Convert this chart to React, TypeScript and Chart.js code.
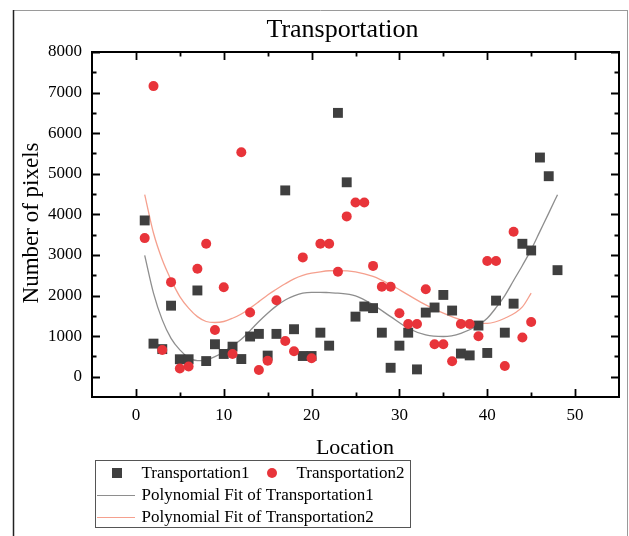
import React, { useEffect, useRef } from 'react';
import { Chart, registerables } from 'chart.js';

Chart.register(...registerables);

// ---------- data ----------
const locations1 = [1, 2, 3, 4, 5, 6, 7, 8, 9, 10, 11, 12, 13, 14, 15, 16, 17, 18, 19, 20, 21, 22, 23, 24, 25, 26, 27, 28, 29, 30, 31, 32, 33, 34, 35, 36, 37, 38, 39, 40, 41, 42, 43, 44, 45, 46, 47, 48];
const transportation1 = [3850, 815, 680, 1750, 430, 430, 2125, 385, 800, 560, 740, 435, 990, 1055, 520, 1055, 4590, 1170, 510, 510, 1085, 765, 6500, 4790, 1480, 1730, 1690, 1085, 220, 765, 1085, 180, 1580, 1705, 2015, 1630, 570, 525, 1260, 585, 1875, 1085, 1800, 3275, 3110, 5400, 4940, 2625];

const locations2 = [1, 2, 3, 4, 5, 6, 7, 8, 9, 10, 11, 12, 13, 14, 15, 16, 17, 18, 19, 20, 21, 22, 23, 24, 25, 26, 27, 28, 29, 30, 31, 32, 33, 34, 35, 36, 37, 38, 39, 40, 41, 42, 43, 44, 45];
const transportation2 = [3415, 7160, 660, 2330, 200, 250, 2660, 3275, 1150, 2205, 560, 5530, 1580, 165, 395, 1885, 880, 625, 2940, 455, 3275, 3275, 2585, 3950, 4290, 4290, 2730, 2215, 2215, 1565, 1300, 1300, 2155, 800, 800, 380, 1300, 1300, 995, 2850, 2850, 265, 3570, 965, 1350];

// Polynomial fit curves
const fit1X = [1, 2, 3, 4, 5, 6, 7, 8, 9, 10, 11, 12, 13, 14, 15, 16, 17, 18, 19, 20, 21, 22, 23, 25, 27, 29, 31, 33, 35, 37, 39, 40, 41, 42, 43, 44, 45, 46, 47, 48];
const fit1Y = [2990, 2060, 1400, 945, 660, 470, 395, 410, 495, 610, 760, 920, 1135, 1360, 1565, 1745, 1890, 1990, 2060, 2080, 2080, 2070, 2060, 1990, 1770, 1480, 1195, 1030, 990, 1070, 1275, 1440, 1700, 2000, 2370, 2740, 3130, 3580, 4030, 4485];

const fit2X = [1, 2, 3, 4, 5, 6, 7, 8, 9, 10, 11, 12, 13, 14, 15, 16, 17, 18, 19, 20, 21, 22, 23, 25, 27, 29, 31, 33, 35, 37, 39, 40, 42, 44, 45];
const fit2Y = [4485, 3540, 2880, 2385, 1975, 1690, 1480, 1360, 1335, 1360, 1440, 1545, 1690, 1850, 2015, 2155, 2290, 2410, 2495, 2550, 2585, 2610, 2615, 2585, 2470, 2265, 2015, 1770, 1565, 1400, 1315, 1315, 1440, 1720, 2060];

const xMajorTicks = [0, 10, 20, 30, 40, 50];
const xMinorTicks = [5, 15, 25, 35, 45];
const yMajorTicks = [0, 1000, 2000, 3000, 4000, 5000, 6000, 7000, 8000];
const yMinorTicks = [500, 1500, 2500, 3500, 4500, 5500, 6500, 7500];

const titleText = 'Transportation';
const xTitle = 'Location';
const yTitle = 'Number of pixels';
const seriesNames = ['Transportation1', 'Transportation2', 'Polynomial Fit of Transportation1', 'Polynomial Fit of Transportation2'];

const SERIF = '"Liberation Serif", "Times New Roman", serif';
const SQUARE_COLOR = '#3f3f3f';
const CIRCLE_COLOR = '#e8343a';
const FIT1_COLOR = '#8e8e8e';
const FIT2_COLOR = '#f5a08e';

const decorPlugin = {
  id: 'decor',
  beforeDraw(chart: any) {
    const ctx = chart.ctx;
    ctx.save();
    ctx.fillStyle = '#ffffff';
    ctx.fillRect(0, 0, chart.width, chart.height);
    // outer border
    ctx.lineWidth = 1;
    ctx.strokeStyle = '#9a9a9a';
    ctx.beginPath();
    ctx.moveTo(13, 10.5);
    ctx.lineTo(628, 10.5);
    ctx.moveTo(627.5, 10);
    ctx.lineTo(627.5, 536);
    ctx.stroke();
    ctx.strokeStyle = '#222222';
    ctx.lineWidth = 1.5;
    ctx.beginPath();
    ctx.moveTo(13.5, 10);
    ctx.lineTo(13.5, 536);
    ctx.stroke();
    ctx.restore();
  },
  afterDraw(chart: any) {
    const ctx = chart.ctx;
    const { left, right, top, bottom } = chart.chartArea;
    const xs = chart.scales.x;
    const ys = chart.scales.y;
    ctx.save();
    // frame
    ctx.strokeStyle = '#000';
    ctx.lineWidth = 2;
    ctx.strokeRect(left, top, right - left, bottom - top);
    // inward ticks
    ctx.lineWidth = 1.8;
    ctx.beginPath();
    const tickX = (vals: number[], len: number) => {
      vals.forEach((v) => {
        const px = Math.round(xs.getPixelForValue(v)) + 0.5;
        ctx.moveTo(px, bottom);
        ctx.lineTo(px, bottom - len);
        ctx.moveTo(px, top);
        ctx.lineTo(px, top + len);
      });
    };
    const tickY = (vals: number[], len: number) => {
      vals.forEach((v) => {
        const py = Math.round(ys.getPixelForValue(v)) + 0.5;
        ctx.moveTo(left, py);
        ctx.lineTo(left + len, py);
        ctx.moveTo(right, py);
        ctx.lineTo(right - len, py);
      });
    };
    tickX(xMajorTicks, 8);
    tickX(xMinorTicks, 4.5);
    tickY(yMajorTicks, 8);
    tickY(yMinorTicks, 4.5);
    ctx.stroke();

    // titles
    ctx.fillStyle = '#000';
    ctx.textAlign = 'center';
    ctx.textBaseline = 'alphabetic';
    ctx.font = `26px ${SERIF}`;
    ctx.fillText(titleText, 342.5, 37);
    ctx.font = `22px ${SERIF}`;
    ctx.fillText(xTitle, 355, 454);
    ctx.save();
    ctx.translate(32, 223);
    ctx.rotate(-Math.PI / 2);
    ctx.font = `23px ${SERIF}`;
    ctx.textBaseline = 'middle';
    ctx.fillText(yTitle, 0, 0);
    ctx.restore();

    // legend
    ctx.strokeStyle = '#555';
    ctx.lineWidth = 1;
    ctx.strokeRect(95.5, 460.5, 315, 67);
    ctx.font = `17px ${SERIF}`;
    ctx.textAlign = 'left';
    ctx.textBaseline = 'middle';
    ctx.fillStyle = SQUARE_COLOR;
    ctx.fillRect(112, 468, 10, 10);
    ctx.fillStyle = CIRCLE_COLOR;
    ctx.beginPath();
    ctx.arc(272, 473, 5, 0, Math.PI * 2);
    ctx.fill();
    ctx.fillStyle = '#000';
    ctx.fillText(seriesNames[0], 141.5, 474);
    ctx.fillText(seriesNames[1], 296.5, 474);
    ctx.fillText(seriesNames[2], 141.5, 496);
    ctx.fillText(seriesNames[3], 141.5, 518);
    ctx.lineWidth = 1.2;
    ctx.strokeStyle = FIT1_COLOR;
    ctx.beginPath();
    ctx.moveTo(97, 495.5);
    ctx.lineTo(135, 495.5);
    ctx.stroke();
    ctx.strokeStyle = FIT2_COLOR;
    ctx.beginPath();
    ctx.moveTo(97, 517.5);
    ctx.lineTo(135, 517.5);
    ctx.stroke();
    ctx.restore();
  },
};

export default function App() {
  const canvasRef = useRef<HTMLCanvasElement | null>(null);

  useEffect(() => {
    if (!canvasRef.current) return;
    const chart = new Chart(canvasRef.current, {
      type: 'scatter',
      data: {
        datasets: [
          {
            label: seriesNames[1],
            data: locations2.map((x, i) => ({ x, y: transportation2[i] })),
            pointStyle: 'circle',
            pointRadius: 5,
            pointBorderWidth: 0,
            backgroundColor: CIRCLE_COLOR,
            borderColor: CIRCLE_COLOR,
            order: 0,
          },
          {
            label: seriesNames[0],
            data: locations1.map((x, i) => ({ x, y: transportation1[i] })),
            pointStyle: 'rect',
            pointRadius: 7,
            pointBorderWidth: 0,
            backgroundColor: SQUARE_COLOR,
            borderColor: SQUARE_COLOR,
            order: 1,
          },
          {
            label: seriesNames[2],
            data: fit1X.map((x, i) => ({ x, y: fit1Y[i] })),
            showLine: true,
            pointRadius: 0,
            borderColor: FIT1_COLOR,
            borderWidth: 1.3,
            cubicInterpolationMode: 'monotone',
            order: 2,
          } as any,
          {
            label: seriesNames[3],
            data: fit2X.map((x, i) => ({ x, y: fit2Y[i] })),
            showLine: true,
            pointRadius: 0,
            borderColor: FIT2_COLOR,
            borderWidth: 1.3,
            cubicInterpolationMode: 'monotone',
            order: 3,
          } as any,
        ],
      },
      options: {
        responsive: false,
        animation: false,
        devicePixelRatio: 1,
        layout: { padding: { left: 0, right: 10, top: 52, bottom: 0 } },
        plugins: {
          legend: { display: false },
          tooltip: { enabled: false },
          title: { display: false },
        },
        scales: {
          x: {
            type: 'linear',
            min: -5,
            max: 55,
            grid: { display: false, drawTicks: false },
            border: { display: false },
            ticks: {
              padding: 8,
              color: '#000',
              font: { family: SERIF, size: 17 },
              callback: (v: any) => String(v),
            },
            afterBuildTicks: (scale: any) => {
              scale.ticks = xMajorTicks.map((value) => ({ value }));
            },
            afterFit: (scale: any) => {
              scale.height = 139;
            },
          },
          y: {
            type: 'linear',
            min: -500,
            max: 8000,
            grid: { display: false, drawTicks: false },
            border: { display: false },
            ticks: {
              padding: 10,
              color: '#000',
              font: { family: SERIF, size: 17 },
              callback: (v: any) => String(v),
            },
            afterBuildTicks: (scale: any) => {
              scale.ticks = yMajorTicks.map((value) => ({ value }));
            },
            afterFit: (scale: any) => {
              scale.width = 92;
            },
          },
        },
      },
      plugins: [decorPlugin],
    });
    return () => chart.destroy();
  }, []);

  return (
    <div style={{ position: 'absolute', left: 0, top: 0, width: 629, height: 536 }}>
      <canvas ref={canvasRef} width={629} height={536} style={{ width: 629, height: 536, display: 'block' }} />
    </div>
  );
}
